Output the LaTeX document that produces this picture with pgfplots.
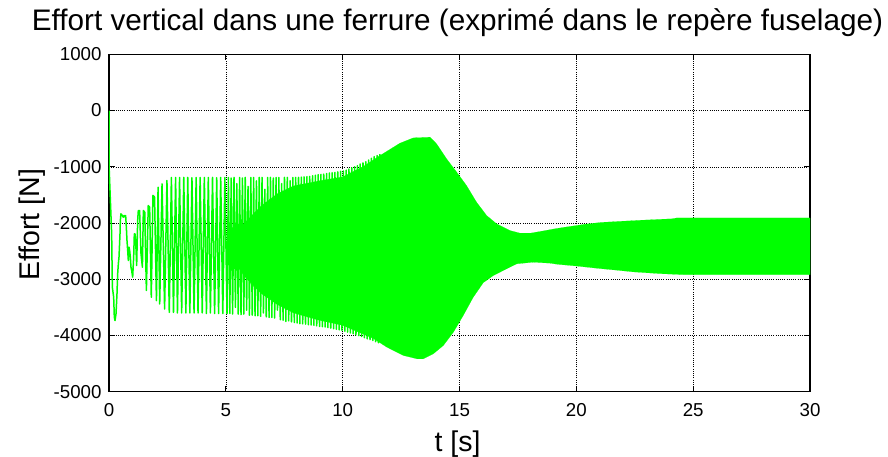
\documentclass[border=0pt]{standalone}
\usepackage{fontspec}
\setmainfont{Liberation Sans}
\usepackage{pgfplots}
\usepackage{pgfplotstable}
\pgfplotsset{compat=1.18}
\definecolor{mgreen}{RGB}{0,255,0}

% transient + visible oscillations (t [s], effort [N])
\pgfplotstableread{
t v
0 0
0.005 -1008
0.114 -2193
0.143 -3141
0.20 -3319
0.228 -3675
0.257 -3734
0.30 -3615
0.342 -3259
0.371 -2904
0.40 -2726
0.428 -2608
0.471 -2193
0.485 -1956
0.513 -1837
0.57 -1867
0.613 -1897
0.656 -1867
0.70 -1897
0.713 -1867
0.742 -2075
0.77 -2311
0.80 -2489
0.827 -2667
0.856 -2430
0.884 -2489
0.913 -2608
0.941 -2786
0.97 -2845
1.013 -2963
1.056 -2608
1.084 -2193
1.113 -2193
1.141 -2311
1.184 -2756
1.227 -1956
1.255 -1778
1.31 -1778
1.37 -2550
1.43 -2786
1.47 -1778
1.53 -1808
1.60 -3200
1.68 -1690
1.74 -1720
1.81 -3320
1.88 -1510
1.95 -1540
2.03 -3380
2.10 -1364
2.17 -3440
2.27 -1305
2.38 -3530
2.48 -1245
2.58 -3590
2.67 -1190
2.76 -3590
2.85 -1190
2.93 -3600
3.02 -1190
3.11 -3600
3.20 -1190
3.29 -3600
3.37 -1190
3.46 -3600
3.55 -1195
3.64 -3600
3.73 -1190
3.81 -3600
3.90 -1190
3.99 -3600
4.08 -1190
4.17 -3610
4.25 -1190
4.34 -3600
4.43 -1190
4.52 -3610
4.61 -1195
4.69 -3610
4.78 -1190
4.87 -3610
4.96 -1190
5.05 -3610
5.11 -1190
5.17 -3610
5.23 -1200
5.29 -3620
5.35 -1190
5.41 -3500
5.47 -1300
5.53 -3620
5.59 -1190
5.65 -3630
5.71 -1200
5.77 -3620
5.83 -1190
5.89 -3550
5.95 -1350
6.01 -3640
6.07 -1190
6.13 -3640
6.19 -1190
6.25 -3650
6.31 -1250
6.37 -3650
6.43 -1190
6.49 -3660
6.55 -1190
6.61 -3600
6.67 -1400
6.73 -3670
6.79 -1190
6.85 -3680
6.91 -1190
6.97 -3680
7.03 -1200
7.09 -3690
7.15 -1190
7.21 -3550
7.27 -1190
7.33 -3720
7.39 -1300
7.45 -3730
7.51 -1190
7.57 -3750
7.63 -1190
7.69 -3740
7.75 -1250
7.81 -3760
7.87 -1190
7.93 -3770
7.99 -1188
8.05 -3780
8.11 -1188
8.17 -3790
8.23 -1185
8.29 -3795
8.35 -1180
8.41 -3800
8.47 -1175
8.53 -3810
8.59 -1170
8.65 -3815
8.71 -1160
8.77 -3820
8.83 -1150
8.89 -3830
8.95 -1140
9.01 -3840
9.07 -1135
9.13 -3845
9.19 -1130
9.25 -3850
9.31 -1120
9.37 -3860
9.43 -1110
9.49 -3870
9.55 -1105
9.61 -3880
9.67 -1100
9.73 -3890
9.79 -1090
9.85 -3900
9.91 -1080
9.97 -3910
10.03 -1075
10.09 -3925
10.15 -1060
10.21 -3940
10.27 -1040
10.33 -3955
10.39 -1020
10.45 -3970
10.51 -1000
10.57 -3990
10.63 -980
10.69 -4005
10.75 -950
10.81 -4020
10.87 -930
10.93 -4040
10.99 -910
11.05 -4060
11.11 -880
11.17 -4075
11.23 -850
11.29 -4090
11.35 -820
11.41 -4110
11.47 -800
11.53 -4130
11.59 -775
}\zig

% dense part: upper envelope forward, lower envelope backward
\pgfplotstableread{
t v
5.2 -2300
5.8 -2000
6.5 -1700
7.2 -1480
7.9 -1340
9.0 -1250
10.0 -1180
10.9 -990
11.6 -800
12.45 -581
13.02 -486
13.74 -474
14.02 -593
14.45 -860
14.88 -1096
15.30 -1334
15.73 -1630
16.16 -1867
16.59 -2015
17.16 -2134
17.59 -2181
18.05 -2180
18.6 -2140
19.05 -2105
19.5 -2075
20 -2045
20.4 -2020
21.05 -1990
21.9 -1970
22.8 -1950
24.1 -1925
24.3 -1910
30 -1910
30 -2920
24.6 -2920
23.55 -2900
22.45 -2870
21.75 -2840
21.0 -2810
20.0 -2765
19.2 -2735
18.88 -2715
18.16 -2697
17.45 -2726
17.02 -2815
16.45 -2934
16.02 -3060
15.59 -3319
15.16 -3645
14.74 -3941
14.31 -4178
13.88 -4326
13.45 -4415
13.17 -4415
12.6 -4356
11.89 -4208
11.3 -4050
10.9 -3980
10.0 -3820
9.0 -3730
7.9 -3600
7.2 -3450
6.5 -3250
5.8 -2950
5.2 -2600
5.2 -2300
}\band

\begin{document}
\begin{tikzpicture}[x=1pt,y=1pt]
\useasboundingbox (-109,-65.3) rectangle (779,391.7);
\begin{axis}[
  at={(0,0)}, anchor=south west,
  scale only axis, width=701pt, height=337.4pt,
  xmin=0, xmax=30, ymin=-5000, ymax=1000,
  xtick={0,5,10,15,20,25,30},
  ytick={-5000,-4000,-3000,-2000,-1000,0,1000},
  xticklabels={0,5,10,15,20,25,30},
  yticklabels={-5000,-4000,-3000,-2000,-1000,0,1000},
  xtick pos=both, ytick pos=both,
  xticklabel pos=lower, yticklabel pos=left,
  tick align=inside, major tick length=6pt,
  every tick/.style={black, line width=0.8pt},
  axis line style={black, line width=1.1pt},
  grid=major,
  major grid style={black, line width=0.5pt, dash pattern=on 1pt off 1.2pt},
  xticklabel style={font=\fontsize{18.7}{20}\selectfont, inner sep=0pt, anchor=base, yshift=-25pt},
  yticklabel style={font=\fontsize{18.7}{20}\selectfont, inner sep=0pt, anchor=east, xshift=-7.3pt},
  title={Effort vertical dans une ferrure (exprimé dans le repère fuselage)},
  title style={font=\fontsize{29.7}{33}\selectfont, inner sep=0pt, anchor=base, at={(axis description cs:0.4971,1.0528)}},
  xlabel={t [s]},
  xlabel style={font=\fontsize{28.5}{32}\selectfont, inner sep=0pt, anchor=base, at={(axis description cs:0.4971,-0.1787)}},
  ylabel={Effort [N]},
  ylabel style={font=\fontsize{28.5}{32}\selectfont, inner sep=0pt, rotate=0, anchor=base, at={(axis description cs:-0.0994,0.494)}},
]
\addplot[mgreen, fill=mgreen, line width=0.1pt, mark=none] table {\band};
\addplot[mgreen, line width=1.5pt, line join=round, mark=none] table {\zig};
\end{axis}
\end{tikzpicture}
\end{document}
